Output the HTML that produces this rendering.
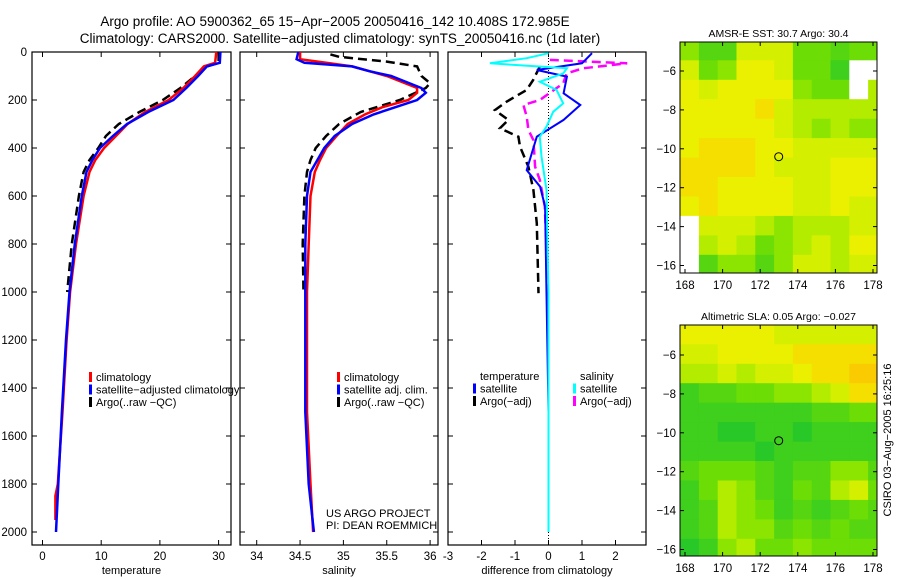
<!DOCTYPE html>
<html><head><meta charset="utf-8"><style>
body{margin:0;background:#fff}
svg{display:block;font-family:"Liberation Sans",sans-serif}
text{font-size:11px;fill:#000}
</style></head><body>
<svg id="s" width="900" height="580" viewBox="0 0 900 580">
<text x="335" y="26" text-anchor="middle" style="font-size:13.5px">Argo profile: AO 5900362_65 15−Apr−2005 20050416_142 10.408S 172.985E</text>
<text x="340" y="43" text-anchor="middle" style="font-size:13.5px">Climatology: CARS2000. Satellite−adjusted climatology: synTS_20050416.nc (1d later)</text>
<text x="891" y="440" transform="rotate(-90 891 440)" text-anchor="middle" style="font-size:11px">CSIRO 03−Aug−2005 16:25:16</text>
</svg>
<script>
const NS="http://www.w3.org/2000/svg";
const svg=document.getElementById('s');
function mk(tag,attrs,parent){const e=document.createElementNS(NS,tag);for(const k in attrs)e.setAttribute(k,attrs[k]);(parent||svg).appendChild(e);return e;}
function txt(x,y,s,anchor,parent,size){const t=mk('text',{x:x,y:y,'text-anchor':anchor||'start'},parent);if(size)t.style.fontSize=size+'px';t.textContent=s;return t;}

// ---- data ----
const depthTicks=[0,200,400,600,800,1000,1200,1400,1600,1800,2000];
const tempTicks=[0,10,20,30];
const salTicks=[34,34.5,35,35.5,36];
const diffTicks=[-3,-2,-1,0,1,2];
const tClimD=[0,45,60,100,150,200,250,300,350,400,450,500,600,800,1000,1200,1500,1800,1850,1950];
const tClim=[29.6,29.4,27.5,26,24,21.5,17.5,14.5,12.5,10.5,9,8,7,5.7,4.7,4.1,3.4,2.6,2.2,2.2];
const tSatD=[0,45,60,100,150,200,250,300,350,400,450,500,600,800,1000,1200,1500,1800,2000];
const tSat=[30.3,30.2,28,26.5,24.5,22.3,18,14.4,12,9.8,8.5,7.5,6.7,5.5,4.6,4,3.3,2.7,2.3];
const tArgoD=[0,45,60,100,150,200,250,300,350,400,450,500,600,800,1000];
const tArgo=[30,30,28,26,23.5,20.5,16.5,13,10.8,9.5,8,7,6.2,5,4.2];
const sClimD=[0,30,45,60,80,100,150,170,200,230,260,300,350,400,450,500,600,800,1000,1500,1800,2000];
const sClim=[34.5,34.5,34.8,35.1,35.3,35.5,35.85,35.85,35.75,35.45,35.25,35.05,34.92,34.8,34.73,34.67,34.62,34.6,34.58,34.58,34.62,34.65];
const sSatD=[0,30,45,60,80,100,150,170,200,230,260,300,350,400,450,500,600,800,1000,1500,1800,2000];
const sSat=[34.48,34.46,34.55,35.1,35.3,35.55,35.9,35.95,35.85,35.6,35.35,35.1,34.9,34.78,34.7,34.62,34.58,34.56,34.56,34.56,34.6,34.66];
const sArgoD=[10,20,40,60,100,130,150,200,250,300,350,400,450,500,600,800,1000];
const sArgo=[34.85,34.95,35.5,35.85,35.9,36.0,35.95,35.65,35.2,34.95,34.8,34.68,34.62,34.58,34.55,34.53,34.54];
const dTSatD=[5,47,75,103,172,221,283,353,492,561,644,1005,1500,2000];
const dTSat=[1.3,1.0,-0.35,0.55,0.45,0.95,0.45,-0.35,-0.65,-0.25,-0.1,-0.06,0,0];
const dSSatD=[5,26,47,68,89,124,158,214,249,311,353,436,575,1005,1500,2000];
const dSSat=[0,-0.65,-1.75,0.55,0.44,-0.26,0.24,0.44,0.14,-0.06,-0.26,-0.21,-0.06,0,0,0];
const dSArgoD=[33,47,68,89,131,200,221,269,325,367,478,533,644,1005];
const dSArgo=[0.04,2.35,1.03,0.54,0.44,-0.26,-0.75,-0.65,-0.6,-0.45,-0.4,-0.26,-0.11,-0.01];
const dTArgoD=[61,117,158,207,242,283,318,353,394,478,575,714,1005];
const dTArgo=[-0.26,-0.46,-0.65,-1.25,-1.6,-1.2,-1.45,-0.9,-0.85,-0.6,-0.45,-0.35,-0.3];
const lonTicks=[168,170,172,174,176,178];
const latTicks=[-6,-8,-10,-12,-14,-16];
const sstGrid=[
[.4,.2,.2,.6,.6,.6,.3,.3,.2,.3,.3],
[.6,.3,.4,.7,.7,.6,.3,.3,.1,-1,-1],
[.7,.6,.7,.7,.7,.7,.4,.3,.3,-1,.5],
[.7,.7,.7,.7,.8,.6,.5,.5,.5,.5,.5],
[.7,.7,.7,.7,.7,.6,.5,.4,.5,.4,.4],
[.7,.8,.8,.8,.7,.7,.6,.6,.6,.6,.6],
[.8,.8,.8,.8,.7,.6,.6,.6,.7,.7,.7],
[.8,.8,.7,.7,.7,.7,.6,.6,.7,.7,.7],
[.7,.8,.7,.7,.7,.7,.6,.6,.7,.6,.6],
[-1,.6,.6,.6,.5,.4,.5,.5,.5,.6,.6],
[-1,.5,.6,.5,.3,.4,.5,.6,.5,.7,.7],
[-1,.2,.4,.4,.2,.4,.6,.6,.5,.6,.6]];
const slaGrid=[
[.7,.7,.7,.7,.7,.6,.6,.6,.6,.6,.6],
[.6,.6,.7,.7,.7,.7,.8,.8,.8,.8,.8],
[.5,.5,.6,.5,.6,.6,.7,.8,.8,.9,.9],
[.1,.2,.2,.3,.3,.4,.4,.5,.6,.8,.8],
[.1,.1,.1,.1,.1,.1,.1,.2,.2,.3,.3],
[.1,.1,0,0,.1,.1,0,.1,.1,.1,.1],
[.1,.1,.1,.1,0,.1,.1,.1,.1,.1,.1],
[.2,.3,.3,.3,.2,.1,.2,.2,.4,.4,.2],
[.1,.3,.5,.4,.2,.1,.3,.2,.5,.6,.3],
[.1,.2,.5,.4,.3,.1,.2,.1,.2,.3,.2],
[.1,.2,.5,.4,.4,.2,.3,.2,.3,.2,.2],
[0,.1,.4,.5,.3,.3,.4,.3,.3,.3,.3]];

// ---- profile panels ----
const Y0=52, YK=0.24, TOP=52, BOT=545;
const yD=d=>Y0+d*YK;
function panel(name,x0,x1,xmin,xmax,ticks,label,fmt){
  const g=mk('g',{});
  
  
  const lo=name==='difference-panel'?448:(name==='temperature-panel'?42.5:256.7);
  const k=name==='difference-panel'?33.5:(name==='temperature-panel'?5.87:86.7);
  const xf=v=>lo+(v-xmin)*k;
  mk('rect',{x:x0,y:TOP,width:x1-x0,height:BOT-TOP,fill:'none',stroke:'#000','stroke-width':1.2},g);
  ticks.forEach(t=>{const x=xf(t);mk('line',{x1:x,x2:x,y1:BOT,y2:BOT-5,stroke:'#000'},g);mk('line',{x1:x,x2:x,y1:TOP,y2:TOP+5,stroke:'#000'},g);
    const tl=txt(x,BOT+15,fmt?fmt(t):String(t),'middle',g,11.5);
    
    });
  depthTicks.forEach(d=>{const y=yD(d);mk('line',{x1:x0,x2:x0+5,y1:y,y2:y,stroke:'#000'},g);mk('line',{x1:x1,x2:x1-5,y1:y,y2:y,stroke:'#000'},g);});
  const xl=txt((x0+x1)/2,BOT+29,label,'middle',g,11);
  
  
  return {g,xf};
}
function series(p,ds,vs,color,dash,name,w){
  const pts=ds.map((d,i)=>p.xf(vs[i]).toFixed(1)+','+yD(d).toFixed(1)).join(' ');
  const l=mk('polyline',{points:pts,fill:'none',stroke:color,'stroke-width':w||2.5,'stroke-dasharray':dash||'none'},p.g);
  
  
}
depthTicks.forEach(d=>{const t=txt(27,yD(d)+4,String(d),'end',svg,11.5);
  
  });

const p1=panel('temperature-panel',32,231,0,30,tempTicks,'temperature');
series(p1,tArgoD,tArgo,'#000','9,5','temp-argo-line');
series(p1,tClimD,tClim,'#f00',null,'temp-climatology-line');
series(p1,tSatD,tSat,'#00f',null,'temp-satellite-line');
const p2=panel('salinity-panel',240,438,34,36,salTicks,'salinity');
series(p2,sArgoD,sArgo,'#000','9,5','sal-argo-line');
series(p2,sClimD,sClim,'#f00',null,'sal-climatology-line');
series(p2,sSatD,sSat,'#00f',null,'sal-satellite-line');
const p3=panel('difference-panel',448,646,-3,3,diffTicks,'difference from climatology');
mk('line',{x1:p3.xf(0),x2:p3.xf(0),y1:TOP,y2:BOT,stroke:'#000','stroke-dasharray':'1,2'},p3.g);
series(p3,dTArgoD,dTArgo,'#000','9,5','diff-temp-argo-line');
series(p3,dSArgoD,dSArgo,'#f0f','9,5','diff-sal-argo-line');
series(p3,dTSatD,dTSat,'#00f',null,'diff-temp-satellite-line',2);
series(p3,dSSatD,dSSat,'#0ff',null,'diff-sal-satellite-line',2);

function legend(x,y,items,name){
  const g=mk('g',{});
  
  
  items.forEach((it,i)=>{const yy=y+i*12.5;
    if(it[1])mk('rect',{x:x,y:yy-9,width:3,height:10,fill:it[1]},g);
    txt(x+7,yy,it[0],'start',g,11);});
}
legend(89,381,[['climatology','#f00'],['satellite−adjusted climatology','#00f'],['Argo(..raw −QC)','#000']],'temp-legend');
legend(337,381,[['climatology','#f00'],['satellite adj. clim.','#00f'],['Argo(..raw −QC)','#000']],'sal-legend');
legend(473,380,[['temperature',null],['satellite','#00f'],['Argo(−adj)','#000']],'diff-temp-legend');
legend(573,380,[['salinity',null],['satellite','#0ff'],['Argo(−adj)','#f0f']],'diff-sal-legend');
const pi=mk('text',{x:326,y:517});pi.style.fontSize='11px';pi.textContent='US ARGO PROJECT';


const pi2=mk('text',{x:326,y:529});pi2.style.fontSize='11px';pi2.textContent='PI: DEAN ROEMMICH';



// ---- maps ----
const stops=[[0,40,200,40],[0.35,120,225,0],[0.55,200,240,0],[0.7,235,240,0],[0.85,250,215,0],[1,250,180,0]];
function col(v){if(v<0)return '#fff';for(let i=1;i<stops.length;i++){if(v<=stops[i][0]){const a=stops[i-1],b=stops[i],f=(v-a[0])/(b[0]-a[0]);return `rgb(${[1,2,3].map(j=>Math.round(a[j]+(b[j]-a[j])*f)).join(',')})`;}}return 'rgb(250,180,0)';}
function map(name,top,bot,latTopPx,grid,title){
  const x0=680,x1=877;
  const lonX=l=>685+(l-168)*18.8;
  const latY=l=>latTopPx+(-6-l)*19.45;
  const g=mk('g',{});
  
  
  const cp=mk('clipPath',{id:name+'-clip'},g);mk('rect',{x:x0,y:top,width:x1-x0,height:bot-top},cp);
  const cg=mk('g',{'clip-path':`url(#${name}-clip)`},g);
  const lon0=167.74, lat0=-4.45;
  grid.forEach((row,r)=>row.forEach((v,c)=>{
    const cell=mk('rect',{x:lonX(lon0+c).toFixed(1),y:latY(lat0-r).toFixed(1),width:19.3,height:20,fill:col(v)},cg);
    
    
  }));
  mk('rect',{x:x0,y:top,width:x1-x0,height:bot-top,fill:'none',stroke:'#000','stroke-width':1},g);
  lonTicks.forEach(l=>{const x=lonX(l);mk('line',{x1:x,x2:x,y1:bot,y2:bot-4,stroke:'#000'},g);mk('line',{x1:x,x2:x,y1:top,y2:top+4,stroke:'#000'},g);txt(x,bot+16,String(l),'middle',g,11.5);});
  latTicks.forEach(l=>{const y=latY(l);mk('line',{x1:x0,x2:x0+4,y1:y,y2:y,stroke:'#000'},g);mk('line',{x1:x1,x2:x1-4,y1:y,y2:y,stroke:'#000'},g);txt(x0-4,y+4,'−'+Math.abs(l),'end',g,11.5);});
  const m=mk('circle',{cx:lonX(172.985),cy:latY(-10.408),r:4,fill:'none',stroke:'#000','stroke-width':1},g);
  
  
  const t=txt((x0+x1)/2,top-5,title,'middle',g,10.5);
  
  
}
map('sst-map',42,273,71,sstGrid,'AMSR-E SST: 30.7 Argo: 30.4');
map('sla-map',325,556,355,slaGrid,'Altimetric SLA: 0.05 Argo: −0.027');
</script>
</body></html>
